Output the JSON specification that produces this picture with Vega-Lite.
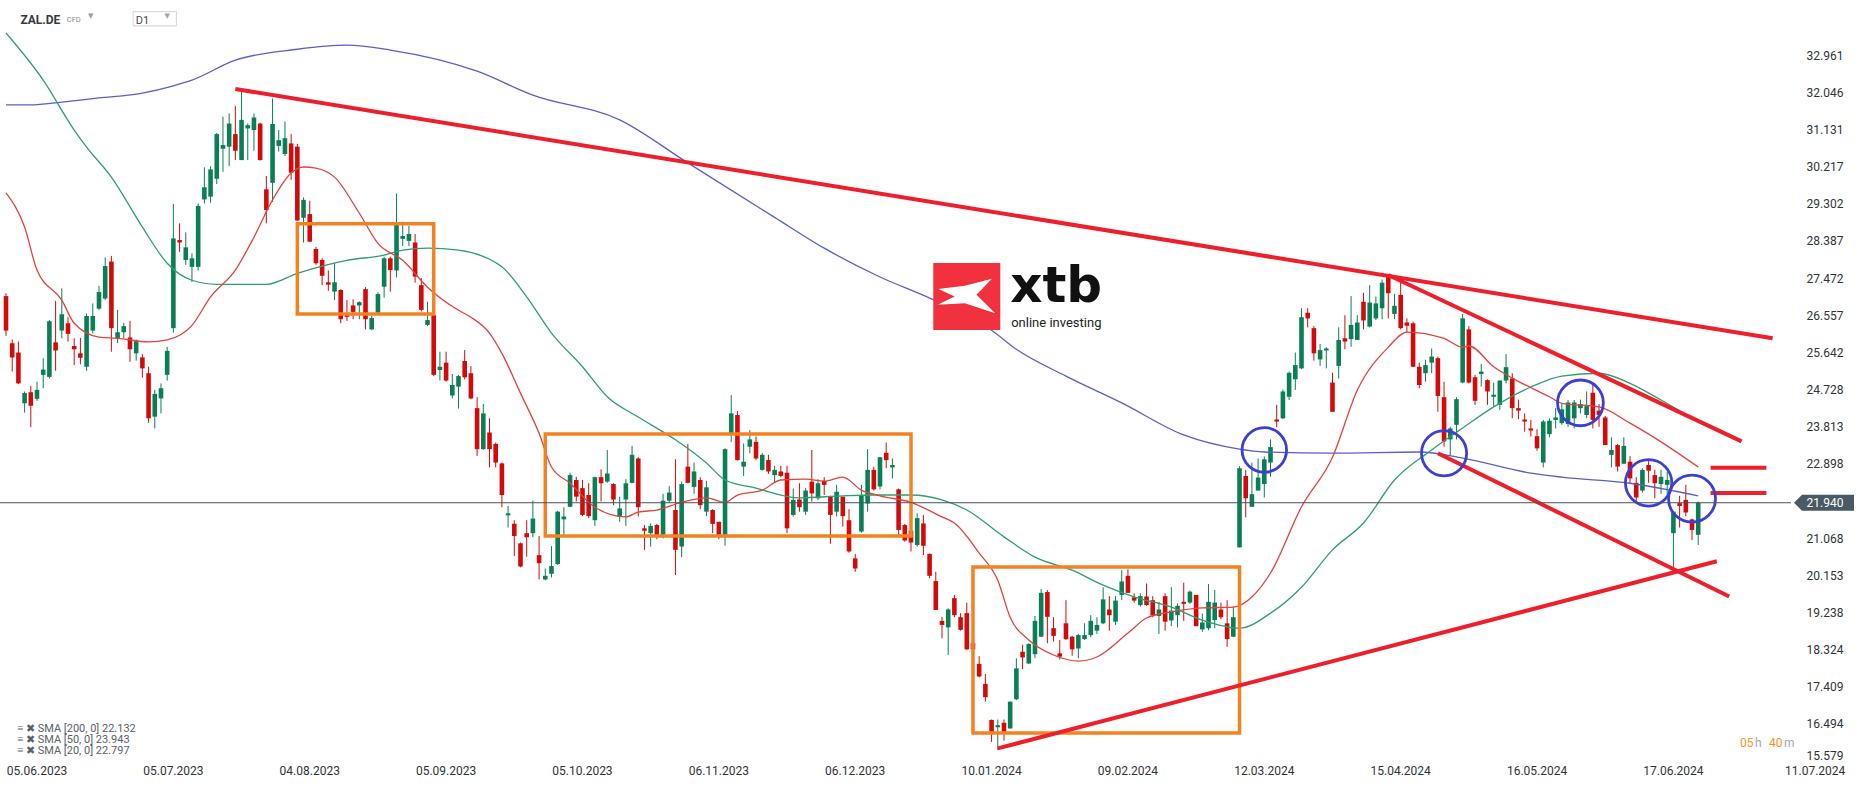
{
"$schema": "https://vega.github.io/schema/vega-lite/v6.json",
"width": 1791, "height": 762,
"autosize": {"type": "none"},
"padding": {"left": 0, "top": 0, "right": 75, "bottom": 25},
"background": "#ffffff",
"config": {"view": {"stroke": null}, "font": "Roboto"},
"datasets": {
"candles": [
{"d":"2023-05-29","o":27.03,"h":27.1,"l":26.05,"c":26.18},
{"d":"2023-05-30","o":25.87,"h":25.96,"l":25.17,"c":25.52},
{"d":"2023-05-31","o":25.64,"h":25.91,"l":24.86,"c":24.88},
{"d":"2023-06-01","o":24.39,"h":24.68,"l":24.16,"c":24.64},
{"d":"2023-06-02","o":24.66,"h":24.82,"l":23.8,"c":24.33},
{"d":"2023-06-05","o":24.5,"h":24.92,"l":24.45,"c":24.72},
{"d":"2023-06-06","o":25.09,"h":25.5,"l":24.76,"c":25.22},
{"d":"2023-06-07","o":25.04,"h":26.44,"l":25.0,"c":26.41},
{"d":"2023-06-08","o":25.89,"h":26.91,"l":25.19,"c":25.69},
{"d":"2023-06-09","o":26.18,"h":27.22,"l":25.99,"c":26.58},
{"d":"2023-06-12","o":26.36,"h":26.51,"l":25.91,"c":26.1},
{"d":"2023-06-13","o":25.8,"h":25.99,"l":25.33,"c":25.72},
{"d":"2023-06-14","o":25.62,"h":26.0,"l":25.35,"c":25.51},
{"d":"2023-06-15","o":25.29,"h":26.6,"l":25.19,"c":26.54},
{"d":"2023-06-16","o":26.18,"h":26.85,"l":26.11,"c":26.54},
{"d":"2023-06-19","o":26.72,"h":27.28,"l":26.69,"c":27.13},
{"d":"2023-06-20","o":26.97,"h":27.98,"l":26.93,"c":27.77},
{"d":"2023-06-21","o":27.88,"h":28.02,"l":25.66,"c":26.24},
{"d":"2023-06-22","o":25.99,"h":26.69,"l":25.87,"c":26.14},
{"d":"2023-06-23","o":26.14,"h":26.37,"l":25.99,"c":26.29},
{"d":"2023-06-26","o":26.01,"h":26.42,"l":25.41,"c":25.72},
{"d":"2023-06-27","o":25.62,"h":25.96,"l":25.44,"c":25.92},
{"d":"2023-06-28","o":25.52,"h":25.6,"l":25.02,"c":25.25},
{"d":"2023-06-29","o":25.13,"h":25.29,"l":23.91,"c":24.02},
{"d":"2023-06-30","o":24.06,"h":24.72,"l":23.77,"c":24.62},
{"d":"2023-07-03","o":24.51,"h":24.88,"l":24.14,"c":24.76},
{"d":"2023-07-04","o":25.09,"h":25.78,"l":24.95,"c":25.68},
{"d":"2023-07-05","o":26.24,"h":29.3,"l":26.13,"c":28.45},
{"d":"2023-07-06","o":28.41,"h":28.82,"l":28.12,"c":28.35},
{"d":"2023-07-07","o":27.92,"h":28.6,"l":27.8,"c":28.23},
{"d":"2023-07-10","o":27.75,"h":28.08,"l":27.38,"c":27.96},
{"d":"2023-07-11","o":27.75,"h":29.31,"l":27.66,"c":29.25},
{"d":"2023-07-12","o":29.41,"h":30.2,"l":29.31,"c":29.71},
{"d":"2023-07-13","o":29.48,"h":30.23,"l":29.33,"c":30.15},
{"d":"2023-07-14","o":29.92,"h":31.05,"l":29.79,"c":31.02},
{"d":"2023-07-17","o":30.66,"h":31.45,"l":30.09,"c":30.75},
{"d":"2023-07-18","o":30.71,"h":31.53,"l":30.23,"c":31.28},
{"d":"2023-07-19","o":31.02,"h":31.71,"l":30.38,"c":30.61},
{"d":"2023-07-20","o":30.38,"h":32.06,"l":30.38,"c":31.37},
{"d":"2023-07-21","o":31.16,"h":31.28,"l":30.38,"c":31.24},
{"d":"2023-07-24","o":31.12,"h":31.53,"l":30.61,"c":31.43},
{"d":"2023-07-25","o":31.28,"h":31.3,"l":30.37,"c":30.38},
{"d":"2023-07-26","o":29.66,"h":29.99,"l":28.82,"c":29.15},
{"d":"2023-07-27","o":29.82,"h":31.9,"l":29.35,"c":31.27},
{"d":"2023-07-28","o":30.73,"h":31.12,"l":30.59,"c":30.87},
{"d":"2023-07-31","o":30.53,"h":31.33,"l":30.48,"c":30.92},
{"d":"2023-08-01","o":30.79,"h":31.02,"l":29.89,"c":30.07},
{"d":"2023-08-02","o":30.71,"h":30.78,"l":28.89,"c":28.89},
{"d":"2023-08-03","o":28.96,"h":29.46,"l":28.35,"c":29.4},
{"d":"2023-08-04","o":29.05,"h":29.38,"l":28.37,"c":28.37},
{"d":"2023-08-07","o":28.19,"h":28.24,"l":27.8,"c":27.84},
{"d":"2023-08-08","o":27.92,"h":27.96,"l":27.3,"c":27.53},
{"d":"2023-08-09","o":27.37,"h":27.66,"l":27.16,"c":27.31},
{"d":"2023-08-10","o":27.14,"h":27.84,"l":26.93,"c":27.37},
{"d":"2023-08-11","o":27.18,"h":27.2,"l":26.36,"c":26.46},
{"d":"2023-08-14","o":26.56,"h":26.93,"l":26.42,"c":26.52},
{"d":"2023-08-15","o":26.8,"h":26.95,"l":26.46,"c":26.64},
{"d":"2023-08-16","o":26.8,"h":26.9,"l":26.46,"c":26.88},
{"d":"2023-08-17","o":27.2,"h":27.25,"l":26.21,"c":26.46},
{"d":"2023-08-18","o":26.21,"h":26.54,"l":26.19,"c":26.49},
{"d":"2023-08-21","o":26.62,"h":27.12,"l":26.6,"c":27.08},
{"d":"2023-08-22","o":27.26,"h":28.0,"l":26.99,"c":27.96},
{"d":"2023-08-23","o":27.96,"h":28.0,"l":27.14,"c":27.67},
{"d":"2023-08-24","o":27.66,"h":29.56,"l":27.49,"c":28.78},
{"d":"2023-08-25","o":28.44,"h":28.86,"l":28.26,"c":28.51},
{"d":"2023-08-28","o":28.39,"h":28.76,"l":28.26,"c":28.56},
{"d":"2023-08-29","o":28.35,"h":28.56,"l":27.36,"c":27.51},
{"d":"2023-08-30","o":27.3,"h":27.47,"l":26.65,"c":26.69},
{"d":"2023-08-31","o":26.32,"h":26.89,"l":26.29,"c":26.44},
{"d":"2023-09-01","o":26.56,"h":26.59,"l":25.06,"c":25.09},
{"d":"2023-09-04","o":25.21,"h":25.66,"l":24.95,"c":25.29},
{"d":"2023-09-05","o":25.39,"h":25.66,"l":24.92,"c":24.95},
{"d":"2023-09-06","o":24.58,"h":25.11,"l":24.51,"c":24.84},
{"d":"2023-09-07","o":24.8,"h":25.09,"l":24.26,"c":25.06},
{"d":"2023-09-08","o":25.43,"h":25.7,"l":24.98,"c":25.03},
{"d":"2023-09-11","o":25.13,"h":25.31,"l":24.49,"c":24.51},
{"d":"2023-09-12","o":24.27,"h":24.54,"l":23.09,"c":23.26},
{"d":"2023-09-13","o":23.26,"h":24.37,"l":23.24,"c":24.14},
{"d":"2023-09-14","o":23.67,"h":24.02,"l":22.81,"c":23.26},
{"d":"2023-09-15","o":23.39,"h":23.42,"l":22.81,"c":22.93},
{"d":"2023-09-18","o":22.91,"h":22.93,"l":21.83,"c":22.13},
{"d":"2023-09-19","o":21.63,"h":21.86,"l":21.33,"c":21.68},
{"d":"2023-09-20","o":21.42,"h":21.51,"l":20.63,"c":21.12},
{"d":"2023-09-21","o":20.94,"h":20.96,"l":20.35,"c":20.37},
{"d":"2023-09-22","o":21.19,"h":21.51,"l":20.61,"c":21.09},
{"d":"2023-09-25","o":21.19,"h":21.99,"l":21.09,"c":21.55},
{"d":"2023-09-26","o":20.65,"h":21.12,"l":20.05,"c":20.45},
{"d":"2023-09-27","o":20.05,"h":20.32,"l":20.03,"c":20.14},
{"d":"2023-09-28","o":20.19,"h":20.87,"l":20.1,"c":20.38},
{"d":"2023-09-29","o":20.43,"h":21.74,"l":20.41,"c":21.72},
{"d":"2023-10-02","o":21.53,"h":21.83,"l":21.15,"c":21.6},
{"d":"2023-10-03","o":21.84,"h":22.68,"l":21.83,"c":22.62},
{"d":"2023-10-04","o":22.5,"h":22.58,"l":21.97,"c":22.09},
{"d":"2023-10-05","o":22.3,"h":22.5,"l":21.61,"c":21.64},
{"d":"2023-10-06","o":22.13,"h":22.42,"l":21.56,"c":21.61},
{"d":"2023-10-09","o":21.51,"h":22.58,"l":21.37,"c":22.57},
{"d":"2023-10-10","o":22.57,"h":22.76,"l":21.97,"c":22.42},
{"d":"2023-10-11","o":22.46,"h":23.24,"l":22.43,"c":22.66},
{"d":"2023-10-12","o":22.4,"h":22.42,"l":21.88,"c":22.02},
{"d":"2023-10-13","o":21.6,"h":22.09,"l":21.47,"c":21.8},
{"d":"2023-10-16","o":22.02,"h":22.52,"l":21.37,"c":22.42},
{"d":"2023-10-17","o":22.43,"h":23.34,"l":22.42,"c":23.12},
{"d":"2023-10-18","o":23.03,"h":23.06,"l":21.6,"c":21.83},
{"d":"2023-10-19","o":21.31,"h":21.39,"l":20.78,"c":21.25},
{"d":"2023-10-20","o":21.19,"h":21.43,"l":20.86,"c":21.37},
{"d":"2023-10-23","o":21.39,"h":21.42,"l":21.04,"c":21.15},
{"d":"2023-10-24","o":21.15,"h":22.16,"l":21.06,"c":21.99},
{"d":"2023-10-25","o":21.99,"h":22.35,"l":21.94,"c":22.19},
{"d":"2023-10-26","o":21.76,"h":23.01,"l":20.16,"c":20.78},
{"d":"2023-10-27","o":20.86,"h":22.46,"l":20.6,"c":22.4},
{"d":"2023-10-30","o":22.83,"h":23.39,"l":22.42,"c":22.43},
{"d":"2023-10-31","o":22.33,"h":22.93,"l":22.16,"c":22.71},
{"d":"2023-11-01","o":22.5,"h":22.57,"l":21.78,"c":21.88},
{"d":"2023-11-02","o":21.72,"h":22.48,"l":21.61,"c":22.32},
{"d":"2023-11-03","o":21.76,"h":21.78,"l":21.19,"c":21.42},
{"d":"2023-11-06","o":21.47,"h":21.47,"l":21.04,"c":21.15},
{"d":"2023-11-07","o":21.15,"h":23.28,"l":20.88,"c":23.26},
{"d":"2023-11-08","o":23.65,"h":24.59,"l":23.44,"c":24.14},
{"d":"2023-11-09","o":24.1,"h":24.2,"l":22.98,"c":22.99},
{"d":"2023-11-10","o":22.83,"h":23.4,"l":22.6,"c":22.95},
{"d":"2023-11-13","o":23.32,"h":23.73,"l":23.16,"c":23.5},
{"d":"2023-11-14","o":23.44,"h":23.57,"l":22.99,"c":23.03},
{"d":"2023-11-15","o":22.75,"h":23.16,"l":22.73,"c":23.12},
{"d":"2023-11-16","o":22.99,"h":23.12,"l":22.65,"c":22.71},
{"d":"2023-11-17","o":22.62,"h":22.85,"l":22.43,"c":22.75},
{"d":"2023-11-20","o":22.71,"h":22.85,"l":22.57,"c":22.6},
{"d":"2023-11-21","o":22.68,"h":22.85,"l":21.19,"c":21.31},
{"d":"2023-11-22","o":21.64,"h":22.29,"l":21.6,"c":22.01},
{"d":"2023-11-23","o":22.02,"h":22.42,"l":21.72,"c":21.83},
{"d":"2023-11-24","o":21.72,"h":22.3,"l":21.64,"c":22.24},
{"d":"2023-11-27","o":22.46,"h":23.24,"l":21.97,"c":22.17},
{"d":"2023-11-28","o":22.05,"h":22.52,"l":22.01,"c":22.42},
{"d":"2023-11-29","o":22.48,"h":22.57,"l":22.13,"c":22.38},
{"d":"2023-11-30","o":22.09,"h":22.11,"l":20.93,"c":21.64},
{"d":"2023-12-01","o":21.72,"h":22.38,"l":21.6,"c":22.21},
{"d":"2023-12-04","o":22.09,"h":22.09,"l":21.35,"c":21.61},
{"d":"2023-12-05","o":21.51,"h":21.78,"l":20.71,"c":20.74},
{"d":"2023-12-06","o":20.57,"h":20.68,"l":20.24,"c":20.32},
{"d":"2023-12-07","o":21.23,"h":22.38,"l":21.2,"c":22.13},
{"d":"2023-12-08","o":21.92,"h":23.26,"l":21.72,"c":22.75},
{"d":"2023-12-11","o":22.75,"h":22.83,"l":22.24,"c":22.27},
{"d":"2023-12-12","o":22.34,"h":23.07,"l":22.27,"c":23.06},
{"d":"2023-12-13","o":23.17,"h":23.42,"l":22.79,"c":22.99},
{"d":"2023-12-14","o":22.81,"h":23.03,"l":22.54,"c":22.87},
{"d":"2023-12-15","o":22.27,"h":22.29,"l":21.1,"c":21.27},
{"d":"2023-12-18","o":21.39,"h":21.42,"l":20.98,"c":21.01},
{"d":"2023-12-19","o":21.25,"h":21.25,"l":20.74,"c":20.96},
{"d":"2023-12-20","o":20.9,"h":21.68,"l":20.86,"c":21.56},
{"d":"2023-12-21","o":21.43,"h":21.64,"l":20.65,"c":20.88},
{"d":"2023-12-22","o":20.68,"h":20.69,"l":20.08,"c":20.14},
{"d":"2023-12-27","o":20.01,"h":20.24,"l":19.3,"c":19.3},
{"d":"2023-12-28","o":19.03,"h":19.13,"l":18.6,"c":18.93},
{"d":"2023-12-29","o":18.87,"h":19.34,"l":18.19,"c":19.31},
{"d":"2024-01-02","o":19.59,"h":19.67,"l":19.12,"c":19.17},
{"d":"2024-01-03","o":19.12,"h":19.22,"l":18.79,"c":18.81},
{"d":"2024-01-04","o":19.22,"h":19.48,"l":18.31,"c":18.33},
{"d":"2024-01-05","o":18.48,"h":18.64,"l":17.94,"c":18.33},
{"d":"2024-01-08","o":17.97,"h":18.16,"l":17.64,"c":17.66},
{"d":"2024-01-09","o":17.48,"h":17.72,"l":17.04,"c":17.15},
{"d":"2024-01-10","o":16.59,"h":16.6,"l":16.05,"c":16.3},
{"d":"2024-01-11","o":16.41,"h":16.6,"l":15.85,"c":16.46},
{"d":"2024-01-12","o":16.52,"h":16.6,"l":16.08,"c":16.3},
{"d":"2024-01-15","o":16.38,"h":17.04,"l":16.38,"c":17.04},
{"d":"2024-01-16","o":17.1,"h":18.11,"l":17.08,"c":17.86},
{"d":"2024-01-17","o":18.27,"h":18.44,"l":17.84,"c":18.13},
{"d":"2024-01-18","o":17.98,"h":18.48,"l":17.97,"c":18.46},
{"d":"2024-01-19","o":18.21,"h":19.15,"l":18.11,"c":19.03},
{"d":"2024-01-22","o":18.64,"h":19.81,"l":18.63,"c":19.72},
{"d":"2024-01-23","o":19.74,"h":19.79,"l":18.48,"c":19.13},
{"d":"2024-01-24","o":18.85,"h":19.12,"l":18.52,"c":18.66},
{"d":"2024-01-25","o":18.23,"h":18.56,"l":18.08,"c":18.15},
{"d":"2024-01-26","o":18.97,"h":19.54,"l":18.56,"c":18.58},
{"d":"2024-01-29","o":18.64,"h":18.66,"l":18.17,"c":18.33},
{"d":"2024-01-30","o":18.35,"h":18.71,"l":18.11,"c":18.68},
{"d":"2024-01-31","o":18.58,"h":18.97,"l":18.56,"c":18.68},
{"d":"2024-02-01","o":18.68,"h":19.17,"l":18.63,"c":19.03},
{"d":"2024-02-02","o":18.79,"h":19.12,"l":18.71,"c":18.93},
{"d":"2024-02-05","o":18.97,"h":19.86,"l":18.95,"c":19.56},
{"d":"2024-02-06","o":19.31,"h":19.64,"l":18.79,"c":19.17},
{"d":"2024-02-07","o":19.01,"h":19.64,"l":18.93,"c":19.53},
{"d":"2024-02-08","o":19.67,"h":20.28,"l":19.54,"c":20.0},
{"d":"2024-02-09","o":20.14,"h":20.3,"l":19.71,"c":19.72},
{"d":"2024-02-12","o":19.61,"h":19.71,"l":19.48,"c":19.53},
{"d":"2024-02-13","o":19.42,"h":19.71,"l":19.38,"c":19.64},
{"d":"2024-02-14","o":19.63,"h":19.95,"l":19.4,"c":19.42},
{"d":"2024-02-15","o":19.54,"h":19.64,"l":19.12,"c":19.17},
{"d":"2024-02-16","o":19.15,"h":19.5,"l":18.71,"c":19.31},
{"d":"2024-02-19","o":19.64,"h":19.71,"l":18.79,"c":19.01},
{"d":"2024-02-20","o":19.04,"h":19.86,"l":18.9,"c":19.28},
{"d":"2024-02-21","o":19.17,"h":19.46,"l":18.87,"c":19.4},
{"d":"2024-02-22","o":19.5,"h":19.97,"l":19.03,"c":19.45},
{"d":"2024-02-23","o":19.48,"h":19.78,"l":19.45,"c":19.75},
{"d":"2024-02-26","o":19.67,"h":19.67,"l":18.9,"c":18.9},
{"d":"2024-02-27","o":18.82,"h":19.21,"l":18.76,"c":18.99},
{"d":"2024-02-28","o":18.85,"h":19.94,"l":18.8,"c":19.5},
{"d":"2024-02-29","o":19.05,"h":19.79,"l":18.85,"c":19.48},
{"d":"2024-03-01","o":19.31,"h":19.48,"l":19.07,"c":19.12},
{"d":"2024-03-04","o":18.97,"h":19.54,"l":18.39,"c":18.58},
{"d":"2024-03-05","o":18.64,"h":19.38,"l":18.63,"c":19.12},
{"d":"2024-03-06","o":20.84,"h":22.84,"l":20.84,"c":22.79},
{"d":"2024-03-07","o":22.6,"h":22.75,"l":21.58,"c":22.05},
{"d":"2024-03-08","o":21.84,"h":22.93,"l":21.84,"c":22.15},
{"d":"2024-03-11","o":22.24,"h":23.03,"l":22.24,"c":22.56},
{"d":"2024-03-12","o":22.4,"h":23.08,"l":22.07,"c":23.01},
{"d":"2024-03-13","o":22.93,"h":23.5,"l":22.58,"c":23.31},
{"d":"2024-03-14","o":23.99,"h":24.35,"l":23.8,"c":23.94},
{"d":"2024-03-15","o":24.02,"h":24.73,"l":24.0,"c":24.68},
{"d":"2024-03-18","o":24.55,"h":25.17,"l":24.47,"c":25.14},
{"d":"2024-03-19","o":24.98,"h":25.64,"l":24.72,"c":25.33},
{"d":"2024-03-20","o":25.25,"h":26.73,"l":25.23,"c":26.51},
{"d":"2024-03-21","o":26.62,"h":26.73,"l":26.26,"c":26.48},
{"d":"2024-03-22","o":26.24,"h":26.29,"l":25.44,"c":25.62},
{"d":"2024-03-25","o":25.47,"h":25.85,"l":25.31,"c":25.7},
{"d":"2024-03-26","o":25.69,"h":25.77,"l":25.25,"c":25.74},
{"d":"2024-03-27","o":24.9,"h":25.14,"l":24.18,"c":24.18},
{"d":"2024-03-28","o":25.31,"h":26.26,"l":25.0,"c":25.95},
{"d":"2024-04-02","o":25.99,"h":26.56,"l":25.72,"c":25.91},
{"d":"2024-04-03","o":25.97,"h":27.03,"l":25.78,"c":26.32},
{"d":"2024-04-04","o":25.95,"h":26.56,"l":25.95,"c":26.38},
{"d":"2024-04-05","o":26.89,"h":27.11,"l":26.21,"c":26.43},
{"d":"2024-04-08","o":26.28,"h":27.3,"l":26.26,"c":26.87},
{"d":"2024-04-09","o":26.48,"h":27.02,"l":26.44,"c":26.85},
{"d":"2024-04-10","o":26.73,"h":27.44,"l":26.46,"c":27.36},
{"d":"2024-04-11","o":27.51,"h":27.55,"l":26.48,"c":27.1},
{"d":"2024-04-12","o":26.59,"h":27.08,"l":26.46,"c":26.79},
{"d":"2024-04-15","o":27.06,"h":27.39,"l":26.21,"c":26.24},
{"d":"2024-04-16","o":26.38,"h":26.48,"l":26.15,"c":26.3},
{"d":"2024-04-17","o":26.36,"h":26.4,"l":25.28,"c":25.29},
{"d":"2024-04-18","o":25.29,"h":25.39,"l":24.76,"c":24.84},
{"d":"2024-04-19","o":25.13,"h":25.46,"l":24.92,"c":25.33},
{"d":"2024-04-22","o":25.39,"h":25.74,"l":25.13,"c":25.54},
{"d":"2024-04-23","o":25.5,"h":25.54,"l":24.18,"c":24.57},
{"d":"2024-04-24","o":24.54,"h":24.92,"l":23.32,"c":23.45},
{"d":"2024-04-25","o":23.5,"h":23.81,"l":23.09,"c":23.77},
{"d":"2024-04-26","o":23.86,"h":24.54,"l":23.5,"c":24.49},
{"d":"2024-04-29","o":24.9,"h":26.59,"l":24.88,"c":26.48},
{"d":"2024-04-30","o":26.21,"h":26.29,"l":24.88,"c":24.9},
{"d":"2024-05-02","o":25.03,"h":25.09,"l":24.35,"c":24.45},
{"d":"2024-05-03","o":25.11,"h":25.36,"l":24.8,"c":25.17},
{"d":"2024-05-06","o":24.96,"h":24.98,"l":24.35,"c":24.68},
{"d":"2024-05-07","o":24.55,"h":24.9,"l":24.31,"c":24.6},
{"d":"2024-05-08","o":24.35,"h":24.95,"l":24.23,"c":24.95},
{"d":"2024-05-09","o":24.95,"h":25.6,"l":24.88,"c":25.28},
{"d":"2024-05-10","o":25.0,"h":25.13,"l":24.02,"c":24.27},
{"d":"2024-05-13","o":24.27,"h":24.48,"l":24.0,"c":24.21},
{"d":"2024-05-14","o":23.99,"h":24.14,"l":23.69,"c":23.94},
{"d":"2024-05-15","o":23.77,"h":23.98,"l":23.57,"c":23.72},
{"d":"2024-05-16","o":23.58,"h":23.75,"l":23.22,"c":23.28},
{"d":"2024-05-17","o":22.93,"h":23.98,"l":22.81,"c":23.94},
{"d":"2024-05-20","o":23.63,"h":24.02,"l":23.55,"c":23.96},
{"d":"2024-05-21","o":23.98,"h":24.27,"l":23.77,"c":24.04},
{"d":"2024-05-22","o":23.9,"h":24.39,"l":23.86,"c":24.24},
{"d":"2024-05-23","o":23.88,"h":24.47,"l":23.81,"c":24.41},
{"d":"2024-05-24","o":24.02,"h":24.47,"l":23.77,"c":24.41},
{"d":"2024-05-27","o":24.27,"h":24.48,"l":24.14,"c":24.37},
{"d":"2024-05-28","o":24.1,"h":24.68,"l":24.02,"c":24.32},
{"d":"2024-05-29","o":24.65,"h":24.84,"l":23.77,"c":23.98},
{"d":"2024-05-30","o":24.21,"h":24.37,"l":23.81,"c":24.1},
{"d":"2024-05-31","o":24.04,"h":24.08,"l":23.36,"c":23.36},
{"d":"2024-06-03","o":23.12,"h":23.55,"l":22.81,"c":23.24},
{"d":"2024-06-04","o":23.36,"h":23.39,"l":22.71,"c":22.83},
{"d":"2024-06-05","o":22.9,"h":23.55,"l":22.9,"c":23.34},
{"d":"2024-06-06","o":22.95,"h":23.09,"l":22.43,"c":22.54},
{"d":"2024-06-07","o":22.43,"h":22.57,"l":21.94,"c":22.07},
{"d":"2024-06-10","o":22.24,"h":22.79,"l":22.19,"c":22.75},
{"d":"2024-06-11","o":22.87,"h":23.01,"l":22.43,"c":22.73},
{"d":"2024-06-12","o":22.62,"h":22.75,"l":22.05,"c":22.42},
{"d":"2024-06-13","o":22.4,"h":22.75,"l":22.16,"c":22.58},
{"d":"2024-06-14","o":22.38,"h":22.71,"l":22.13,"c":22.5},
{"d":"2024-06-17","o":21.19,"h":21.74,"l":20.28,"c":21.72},
{"d":"2024-06-18","o":21.93,"h":22.11,"l":21.33,"c":21.86},
{"d":"2024-06-19","o":22.01,"h":22.38,"l":21.61,"c":21.7},
{"d":"2024-06-20","o":21.53,"h":21.55,"l":21.02,"c":21.27},
{"d":"2024-06-21","o":21.15,"h":21.97,"l":20.9,"c":21.94}
],
"sma": [
{"s":"200","d":"2023-05-29","v":31.74},{"s":"200","d":"2023-06-02","v":31.74},{"s":"200","d":"2023-06-09","v":31.81},{"s":"200","d":"2023-06-19","v":31.91},{"s":"200","d":"2023-06-28","v":32.03},{"s":"200","d":"2023-07-05","v":32.21},{"s":"200","d":"2023-07-10","v":32.35},{"s":"200","d":"2023-07-19","v":32.84},{"s":"200","d":"2023-08-02","v":33.11},{"s":"200","d":"2023-08-14","v":33.21},{"s":"200","d":"2023-08-23","v":33.09},{"s":"200","d":"2023-09-12","v":32.57},{"s":"200","d":"2023-09-25","v":31.98},{"s":"200","d":"2023-10-13","v":31.37},{"s":"200","d":"2023-10-30","v":30.31},{"s":"200","d":"2023-11-17","v":28.97},{"s":"200","d":"2023-11-29","v":28.21},{"s":"200","d":"2023-12-12","v":27.5},{"s":"200","d":"2023-12-22","v":26.98},{"s":"200","d":"2024-01-10","v":26.19},{"s":"200","d":"2024-01-16","v":25.72},{"s":"200","d":"2024-01-26","v":25.06},{"s":"200","d":"2024-02-08","v":24.4},{"s":"200","d":"2024-02-22","v":23.61},{"s":"200","d":"2024-03-06","v":23.26},{"s":"200","d":"2024-03-12","v":23.19},{"s":"200","d":"2024-03-27","v":23.16},{"s":"200","d":"2024-04-18","v":23.19},{"s":"200","d":"2024-04-29","v":23.04},{"s":"200","d":"2024-05-15","v":22.67},{"s":"200","d":"2024-05-22","v":22.57},{"s":"200","d":"2024-06-06","v":22.42},{"s":"200","d":"2024-06-21","v":22.11},
{"s":"50","d":"2023-05-29","v":33.51},{"s":"50","d":"2023-06-06","v":32.35},{"s":"50","d":"2023-06-13","v":31.12},{"s":"50","d":"2023-06-15","v":30.7},{"s":"50","d":"2023-06-21","v":29.96},{"s":"50","d":"2023-06-28","v":28.73},{"s":"50","d":"2023-07-04","v":27.84},{"s":"50","d":"2023-07-10","v":27.42},{"s":"50","d":"2023-07-14","v":27.32},{"s":"50","d":"2023-07-26","v":27.32},{"s":"50","d":"2023-08-02","v":27.59},{"s":"50","d":"2023-08-14","v":27.91},{"s":"50","d":"2023-08-22","v":28.04},{"s":"50","d":"2023-08-25","v":28.16},{"s":"50","d":"2023-08-31","v":28.21},{"s":"50","d":"2023-09-07","v":28.16},{"s":"50","d":"2023-09-18","v":27.75},{"s":"50","d":"2023-09-22","v":27.01},{"s":"50","d":"2023-09-28","v":26.12},{"s":"50","d":"2023-10-05","v":25.29},{"s":"50","d":"2023-10-11","v":24.55},{"s":"50","d":"2023-10-18","v":24.05},{"s":"50","d":"2023-10-26","v":23.49},{"s":"50","d":"2023-11-02","v":22.92},{"s":"50","d":"2023-11-07","v":22.5},{"s":"50","d":"2023-11-14","v":22.3},{"s":"50","d":"2023-11-23","v":22.06},{"s":"50","d":"2023-12-04","v":22.11},{"s":"50","d":"2023-12-11","v":22.13},{"s":"50","d":"2023-12-19","v":22.13},{"s":"50","d":"2023-12-28","v":22.01},{"s":"50","d":"2024-01-04","v":21.76},{"s":"50","d":"2024-01-12","v":21.1},{"s":"50","d":"2024-01-19","v":20.6},{"s":"50","d":"2024-01-29","v":20.28},{"s":"50","d":"2024-02-05","v":19.91},{"s":"50","d":"2024-02-12","v":19.62},{"s":"50","d":"2024-02-20","v":19.37},{"s":"50","d":"2024-02-27","v":19.05},{"s":"50","d":"2024-03-06","v":18.85},{"s":"50","d":"2024-03-13","v":19.22},{"s":"50","d":"2024-03-20","v":19.86},{"s":"50","d":"2024-03-27","v":20.78},{"s":"50","d":"2024-04-05","v":21.44},{"s":"50","d":"2024-04-12","v":22.5},{"s":"50","d":"2024-04-22","v":23.24},{"s":"50","d":"2024-04-29","v":23.78},{"s":"50","d":"2024-05-07","v":24.3},{"s":"50","d":"2024-05-15","v":24.79},{"s":"50","d":"2024-05-22","v":25.06},{"s":"50","d":"2024-05-30","v":25.13},{"s":"50","d":"2024-06-06","v":24.88},{"s":"50","d":"2024-06-13","v":24.47},{"s":"50","d":"2024-06-21","v":23.93},
{"s":"20","d":"2023-05-29","v":29.57},{"s":"20","d":"2023-06-01","v":28.73},{"s":"20","d":"2023-06-05","v":27.67},{"s":"20","d":"2023-06-09","v":26.93},{"s":"20","d":"2023-06-13","v":26.36},{"s":"20","d":"2023-06-19","v":26.02},{"s":"20","d":"2023-06-22","v":25.99},{"s":"20","d":"2023-06-29","v":25.9},{"s":"20","d":"2023-07-04","v":25.95},{"s":"20","d":"2023-07-10","v":26.31},{"s":"20","d":"2023-07-13","v":27.01},{"s":"20","d":"2023-07-19","v":27.67},{"s":"20","d":"2023-07-24","v":28.48},{"s":"20","d":"2023-07-27","v":29.4},{"s":"20","d":"2023-08-01","v":30.06},{"s":"20","d":"2023-08-03","v":30.21},{"s":"20","d":"2023-08-07","v":30.18},{"s":"20","d":"2023-08-10","v":29.96},{"s":"20","d":"2023-08-16","v":29.07},{"s":"20","d":"2023-08-21","v":28.33},{"s":"20","d":"2023-08-25","v":27.91},{"s":"20","d":"2023-08-31","v":27.25},{"s":"20","d":"2023-09-07","v":26.68},{"s":"20","d":"2023-09-11","v":26.51},{"s":"20","d":"2023-09-14","v":26.12},{"s":"20","d":"2023-09-18","v":25.62},{"s":"20","d":"2023-09-21","v":24.64},{"s":"20","d":"2023-09-26","v":23.65},{"s":"20","d":"2023-09-28","v":22.82},{"s":"20","d":"2023-10-03","v":22.42},{"s":"20","d":"2023-10-09","v":21.83},{"s":"20","d":"2023-10-16","v":21.59},{"s":"20","d":"2023-10-18","v":21.71},{"s":"20","d":"2023-10-23","v":21.76},{"s":"20","d":"2023-10-27","v":21.95},{"s":"20","d":"2023-11-02","v":22.06},{"s":"20","d":"2023-11-07","v":21.95},{"s":"20","d":"2023-11-09","v":22.13},{"s":"20","d":"2023-11-15","v":22.25},{"s":"20","d":"2023-11-20","v":22.5},{"s":"20","d":"2023-11-24","v":22.52},{"s":"20","d":"2023-11-29","v":22.47},{"s":"20","d":"2023-12-04","v":22.57},{"s":"20","d":"2023-12-07","v":22.25},{"s":"20","d":"2023-12-12","v":22.11},{"s":"20","d":"2023-12-19","v":21.95},{"s":"20","d":"2023-12-28","v":21.59},{"s":"20","d":"2024-01-02","v":21.44},{"s":"20","d":"2024-01-08","v":20.7},{"s":"20","d":"2024-01-11","v":20.03},{"s":"20","d":"2024-01-15","v":19.12},{"s":"20","d":"2024-01-18","v":18.56},{"s":"20","d":"2024-01-24","v":18.19},{"s":"20","d":"2024-01-30","v":18.04},{"s":"20","d":"2024-02-02","v":18.14},{"s":"20","d":"2024-02-09","v":18.73},{"s":"20","d":"2024-02-14","v":19.1},{"s":"20","d":"2024-02-20","v":19.25},{"s":"20","d":"2024-02-27","v":19.35},{"s":"20","d":"2024-03-05","v":19.37},{"s":"20","d":"2024-03-08","v":19.62},{"s":"20","d":"2024-03-13","v":20.21},{"s":"20","d":"2024-03-20","v":21.84},{"s":"20","d":"2024-03-27","v":23.06},{"s":"20","d":"2024-04-04","v":24.71},{"s":"20","d":"2024-04-11","v":25.77},{"s":"20","d":"2024-04-16","v":26.14},{"s":"20","d":"2024-04-22","v":26.07},{"s":"20","d":"2024-04-24","v":25.99},{"s":"20","d":"2024-04-29","v":25.77},{"s":"20","d":"2024-04-30","v":25.8},{"s":"20","d":"2024-05-07","v":25.29},{"s":"20","d":"2024-05-10","v":25.01},{"s":"20","d":"2024-05-20","v":24.55},{"s":"20","d":"2024-05-22","v":24.39},{"s":"20","d":"2024-05-30","v":24.3},{"s":"20","d":"2024-06-06","v":23.9},{"s":"20","d":"2024-06-13","v":23.44},{"s":"20","d":"2024-06-21","v":22.82}
],
"lines": [
{"g":"L1","d":"2023-07-19","v":32.13},{"g":"L1","d":"2024-07-09","v":25.99},
{"g":"L2","d":"2024-04-11","v":27.55},{"g":"L2","d":"2024-07-02","v":23.45},
{"g":"L3","d":"2024-04-23","v":23.16},{"g":"L3","d":"2024-06-28","v":19.63},
{"g":"L4","d":"2024-01-11","v":15.89},{"g":"L4","d":"2024-06-26","v":20.5},
{"g":"S1","d":"2024-06-25","v":22.8},{"g":"S1","d":"2024-07-08","v":22.8},
{"g":"S2","d":"2024-06-25","v":22.18},{"g":"S2","d":"2024-07-08","v":22.18}
],
"boxes": [
{"d":"2023-08-02","d2":"2023-09-01","v":28.81,"v2":26.59},
{"d":"2023-09-27","d2":"2023-12-19","v":23.63,"v2":21.12},
{"d":"2024-01-05","d2":"2024-03-06","v":20.36,"v2":16.27}
],
"circles": [
{"k":"A","d":"2024-03-12","v":23.24},
{"k":"B","d":"2024-04-24","v":23.16},
{"k":"C","d":"2024-05-27","v":24.4},
{"k":"D","d":"2024-06-11","v":22.43},
{"k":"E","d":"2024-06-20","v":22.04}
]
},
"layer": [
{"data": {"name": "candles"},
 "mark": {"type": "rule", "strokeWidth": 1},
 "encoding": {
  "x": {"field": "d", "type": "ordinal", "title": null,
   "scale": {"type": "band", "paddingInner": 0, "paddingOuter": 0.47,
     "domain": {"unionWith": ["2024-06-24","2024-06-25","2024-06-26","2024-06-27","2024-06-28","2024-07-01","2024-07-02","2024-07-03","2024-07-04","2024-07-05","2024-07-08","2024-07-09","2024-07-10","2024-07-11"]}},
   "axis": {"title": null, "domain": false, "ticks": false, "grid": false, "labelAngle": 0,
     "values": ["2023-06-05","2023-07-05","2023-08-04","2023-09-05","2023-10-05","2023-11-06","2023-12-06","2024-01-10","2024-02-09","2024-03-12","2024-04-15","2024-05-16","2024-06-17","2024-07-11"],
     "labelExpr": "substring(datum.value,8,10)+'.'+substring(datum.value,5,7)+'.'+substring(datum.value,0,4)",
     "labelAlign": {"condition": {"test": "datum.value == '2024-07-11'", "value": "left"}, "value": "center"},
     "labelFontSize": 12, "labelColor": "#2f3439", "labelPadding": 3, "labelOverlap": false, "labelFont": "Roboto"}},
  "y": {"field": "h", "type": "quantitative", "title": null, "scale": {"domain": [15.554, 34.323], "nice": false, "zero": false},
   "axis": {"orient": "right", "title": null, "domain": false, "ticks": false, "grid": false, "zindex": 1,
     "values": [15.579,16.494,17.409,18.324,19.238,20.153,21.068,21.94,22.898,23.813,24.728,25.642,26.557,27.472,28.387,29.302,30.217,31.131,32.046,32.961],
     "format": ".3f", "labelPadding": 15, "labelFontSize": 12, "labelFont": "Roboto", "labelOverlap": false,
     "labelOffset": {"condition": {"test": "datum.value < 15.6", "value": -5}, "value": 0},
     "labelColor": {"condition": {"test": "datum.value == 21.94", "value": "#ffffff"}, "value": "#2f3439"}}},
  "y2": {"field": "l"},
  "color": {"condition": {"test": "datum.c >= datum.o", "value": "#0a7f55"}, "value": "#d20a0a"}
 }},
{"data": {"name": "candles"},
 "mark": {"type": "bar", "size": 4.6},
 "encoding": {
  "x": {"field": "d", "type": "ordinal", "title": null},
  "y": {"field": "o", "type": "quantitative", "title": null},
  "y2": {"field": "c"},
  "color": {"condition": {"test": "datum.c >= datum.o", "value": "#0a7f55"}, "value": "#d20a0a"}
 }},
{"data": {"name": "sma"},
 "mark": {"type": "line", "strokeWidth": 1.3, "interpolate": "monotone"},
 "encoding": {
  "x": {"field": "d", "type": "ordinal", "title": null},
  "y": {"field": "v", "type": "quantitative", "title": null},
  "color": {"field": "s", "type": "nominal",
   "scale": {"domain": ["200","50","20"], "range": ["#5b5fc7","#2f9e72","#e2433c"]},
   "legend": {"orient": "bottom-left", "offset": 6, "title": null, "symbolOpacity": 0, "symbolSize": 0, "symbolStrokeWidth": 0,
     "labelOffset": 0, "labelFontSize": 11, "labelColor": "#5b6168", "rowPadding": -1.5, "labelLimit": 300,
     "labelExpr": "datum.label == '200' ? '≡ ✖ SMA [200,  0] 22.132' : datum.label == '50' ? '≡ ✖ SMA [50,  0] 23.943' : '≡ ✖ SMA [20,  0] 22.797'"}}
 }},
{"data": {"name": "boxes"},
 "mark": {"type": "rect", "filled": false, "stroke": "#f58220", "strokeWidth": 3.5},
 "encoding": {
  "x": {"field": "d", "type": "ordinal", "title": null, "bandPosition": 0.5},
  "x2": {"field": "d2", "bandPosition": 0.5},
  "y": {"field": "v", "type": "quantitative", "title": null},
  "y2": {"field": "v2"}
 }},
{"data": {"name": "lines"},
 "mark": {"type": "line", "strokeWidth": 4, "color": "#ee1f2b"},
 "encoding": {
  "x": {"field": "d", "type": "ordinal", "title": null},
  "y": {"field": "v", "type": "quantitative", "title": null},
  "detail": {"field": "g"}
 }},
{"data": {"name": "circles"},
 "mark": {"type": "point", "shape": "circle", "filled": false, "stroke": "#3b3fd4", "strokeWidth": 2.8, "opacity": 1},
 "encoding": {
  "x": {"field": "d", "type": "ordinal", "title": null},
  "y": {"field": "v", "type": "quantitative", "title": null},
  "size": {"field": "k", "type": "nominal", "scale": {"domain": ["A","B","C","D","E"], "range": [1980, 2209, 3249, 3600, 1482]}, "legend": null}
 }},
{"data": {"values": [{}]},
 "mark": {"type": "rule", "color": "#47535c", "strokeWidth": 1},
 "encoding": {"y": {"datum": 21.94, "type": "quantitative"}}},
{"data": {"values": [{}]},
 "mark": {"type": "point", "shape": "M0.3,0L0.567,-0.267L2.3,-0.267L2.3,0.267L0.567,0.267Z", "size": 3600, "filled": true, "color": "#4b5965", "opacity": 1, "strokeWidth": 0},
 "encoding": {"x": {"datum": "2024-07-11", "type": "ordinal"}, "y": {"datum": 21.94, "type": "quantitative"}}},
{"data": {"values": [{}]},
 "mark": {"type": "point", "shape": "square", "size": 4489, "filled": true, "color": "#f1313e", "opacity": 1, "strokeWidth": 0},
 "encoding": {"x": {"datum": "2024-01-04", "type": "ordinal"}, "y": {"datum": 27.02, "type": "quantitative"}}},
{"data": {"values": [{}]},
 "mark": {"type": "point", "shape": "M-0.85,-0.22L-0.06,-0.32L0.75,-0.53L0.29,-0.05L0.85,0.5L-0.06,0.2L-0.87,0.25L-0.36,0Z", "size": 4489, "filled": true, "color": "#ffffff", "opacity": 1, "strokeWidth": 0},
 "encoding": {"x": {"datum": "2024-01-04", "type": "ordinal"}, "y": {"datum": 27.02, "type": "quantitative"}}},
{"data": {"values": [{}]},
 "mark": {"type": "text", "text": "xtb", "font": "DejaVu Sans", "fontWeight": "bold", "fontSize": 50, "align": "left", "baseline": "alphabetic", "color": "#111111", "dx": 0},
 "encoding": {"x": {"datum": "2024-01-15", "type": "ordinal"}, "y": {"datum": 26.89, "type": "quantitative"}}},
{"data": {"values": [{}]},
 "mark": {"type": "text", "text": "online investing", "font": "Roboto", "fontSize": 13, "align": "left", "baseline": "alphabetic", "color": "#222222", "dx": 1},
 "encoding": {"x": {"datum": "2024-01-15", "type": "ordinal"}, "y": {"datum": 26.27, "type": "quantitative"}}},
{"data": {"values": [{}]},
 "mark": {"type": "text", "text": "ZAL.DE", "font": "Roboto", "fontWeight": "bold", "fontSize": 12, "align": "left", "baseline": "middle", "color": "#333a40", "dx": 2},
 "encoding": {"x": {"datum": "2023-05-31", "type": "ordinal"}, "y": {"datum": 33.84, "type": "quantitative"}}},
{"data": {"values": [{}]},
 "mark": {"type": "text", "text": "CFD", "font": "Roboto", "fontSize": 7.5, "align": "left", "baseline": "middle", "color": "#8a8f94", "dx": 5},
 "encoding": {"x": {"datum": "2023-06-09", "type": "ordinal"}, "y": {"datum": 33.84, "type": "quantitative"}}},
{"data": {"values": [{}]},
 "mark": {"type": "text", "text": "▼", "font": "DejaVu Sans", "fontSize": 7, "align": "center", "baseline": "middle", "color": "#9a9fa4", "dx": -2},
 "encoding": {"x": {"datum": "2023-06-16", "type": "ordinal"}, "y": {"datum": 33.93, "type": "quantitative"}}},
{"data": {"values": [{}]},
 "mark": {"type": "point", "shape": "M-1.546,-0.51L1.546,-0.51L1.546,0.51L-1.546,0.51Z", "size": 784, "filled": true, "fill": "#ffffff", "stroke": "#cfd3d6", "strokeWidth": 1, "opacity": 1},
 "encoding": {"x": {"datum": "2023-06-30", "type": "ordinal"}, "y": {"datum": 33.86, "type": "quantitative"}}},
{"data": {"values": [{}]},
 "mark": {"type": "text", "text": "D1", "font": "Roboto", "fontSize": 11, "align": "center", "baseline": "middle", "color": "#444a50"},
 "encoding": {"x": {"datum": "2023-06-28", "type": "ordinal"}, "y": {"datum": 33.81, "type": "quantitative"}}},
{"data": {"values": [{}]},
 "mark": {"type": "text", "text": "▼", "font": "DejaVu Sans", "fontSize": 7, "align": "center", "baseline": "middle", "color": "#a0a5aa"},
 "encoding": {"x": {"datum": "2023-07-04", "type": "ordinal"}, "y": {"datum": 33.93, "type": "quantitative"}}},
{"data": {"values": [{}]},
 "mark": {"type": "text", "text": "05", "font": "Roboto", "fontSize": 12, "align": "left", "baseline": "middle", "color": "#f7941d", "dx": -45},
 "encoding": {"x": {"datum": "2024-07-11", "type": "ordinal"}, "y": {"datum": 16.03, "type": "quantitative"}}},
{"data": {"values": [{}]},
 "mark": {"type": "text", "text": "h", "font": "Roboto", "fontSize": 12, "align": "left", "baseline": "middle", "color": "#a3a8ad", "dx": -30},
 "encoding": {"x": {"datum": "2024-07-11", "type": "ordinal"}, "y": {"datum": 16.03, "type": "quantitative"}}},
{"data": {"values": [{}]},
 "mark": {"type": "text", "text": "40", "font": "Roboto", "fontSize": 12, "align": "left", "baseline": "middle", "color": "#f7941d", "dx": -16},
 "encoding": {"x": {"datum": "2024-07-11", "type": "ordinal"}, "y": {"datum": 16.03, "type": "quantitative"}}},
{"data": {"values": [{}]},
 "mark": {"type": "text", "text": "m", "font": "Roboto", "fontSize": 12, "align": "left", "baseline": "middle", "color": "#a3a8ad", "dx": -1},
 "encoding": {"x": {"datum": "2024-07-11", "type": "ordinal"}, "y": {"datum": 16.03, "type": "quantitative"}}}
]
}
